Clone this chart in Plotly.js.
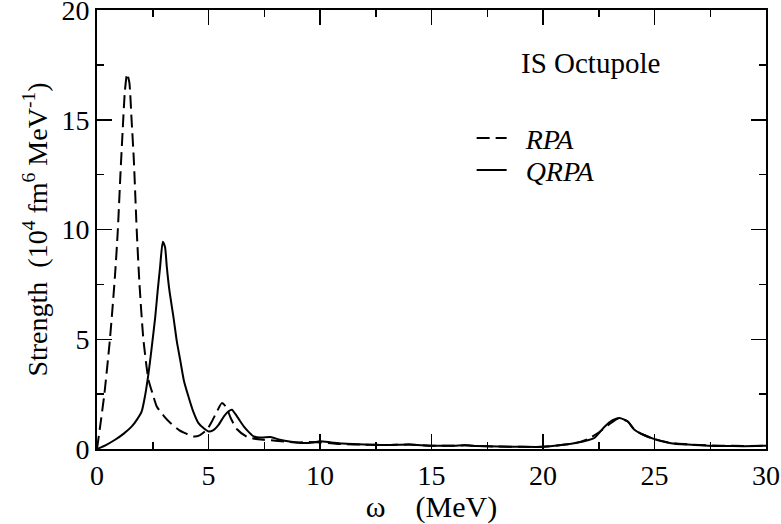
<!DOCTYPE html>
<html>
<head>
<meta charset="utf-8">
<script src="https://cdn.plot.ly/plotly-3.0.1.min.js"></script>
<style>html,body{margin:0;padding:0;background:#fff;}#chart{width:781px;height:524px;}</style>
</head>
<body>
<div id="chart"></div>
<script>
// RPA strength (dashed)
const rpaOmega = [0, 0.15, 0.33, 0.58, 0.8, 0.93, 1.05, 1.15, 1.25, 1.35, 1.45, 1.55, 1.65, 1.78, 1.9, 2.08, 2.31, 2.5, 2.68, 3.0, 3.28, 3.7, 4.0, 4.33, 4.6, 4.93, 5.15, 5.4, 5.6, 5.8, 6.0, 6.28, 6.73, 7.0, 7.46, 8, 8.5, 9, 9.5, 10, 10.5, 11, 12, 13, 14, 15, 16, 16.5, 17, 18, 19, 20, 21, 21.5, 22, 22.5, 23, 23.4, 23.8, 24.1, 24.5, 25, 25.5, 26, 27, 28, 29, 30];
const rpaStrength = [0, 1.1, 2.5, 5.0, 7.8, 9.9, 12.5, 14.5, 16.3, 17.1, 16.7, 15.0, 13.2, 10.0, 7.6, 5.0, 3.15, 2.5, 1.94, 1.5, 1.2, 0.85, 0.7, 0.57, 0.62, 0.88, 1.25, 1.75, 2.09, 1.9, 1.4, 0.9, 0.55, 0.48, 0.42, 0.38, 0.33, 0.3, 0.32, 0.3, 0.26, 0.22, 0.2, 0.18, 0.2, 0.15, 0.15, 0.17, 0.14, 0.11, 0.1, 0.1, 0.2, 0.28, 0.45, 0.75, 1.15, 1.4, 1.25, 0.88, 0.65, 0.45, 0.32, 0.25, 0.18, 0.15, 0.14, 0.15];
// QRPA strength (solid)
const qrpaOmega = [0, 0.4, 0.81, 1.2, 1.56, 1.8, 2.0, 2.15, 2.31, 2.45, 2.61, 2.72, 2.83, 2.95, 3.05, 3.13, 3.25, 3.43, 3.58, 3.73, 3.9, 4.1, 4.3, 4.55, 4.8, 5.0, 5.2, 5.45, 5.7, 5.9, 6.05, 6.2, 6.4, 6.58, 6.8, 7.03, 7.4, 7.78, 8.2, 8.7, 9.27, 9.7, 10, 10.5, 11, 12, 13, 14, 15, 16, 16.5, 17, 18, 19, 20, 21, 21.5, 22, 22.3, 22.75, 23.1, 23.43, 23.8, 24.1, 24.5, 25, 25.5, 25.9, 26.5, 27.4, 28, 29, 30];
const qrpaStrength = [0, 0.18, 0.42, 0.7, 1.03, 1.35, 1.7, 2.4, 3.45, 4.6, 6.0, 7.2, 8.3, 9.44, 9.2, 8.3, 7.2, 6.0, 4.9, 4.06, 3.1, 2.39, 1.75, 1.18, 0.93, 0.8, 0.85, 1.1, 1.5, 1.72, 1.79, 1.6, 1.3, 1.03, 0.78, 0.57, 0.52, 0.55, 0.42, 0.33, 0.27, 0.3, 0.35, 0.3, 0.25, 0.2, 0.18, 0.2, 0.15, 0.15, 0.17, 0.14, 0.11, 0.1, 0.1, 0.2, 0.28, 0.4, 0.5, 1.0, 1.3, 1.41, 1.25, 0.88, 0.65, 0.45, 0.32, 0.24, 0.2, 0.15, 0.14, 0.13, 0.15];
const seriesNames = ['RPA', 'QRPA'];
const xTickVals = [0, 5, 10, 15, 20, 25, 30];
const yTickVals = [0, 5, 10, 15, 20];

const FONT = '"Liberation Serif", serif';
const FS = 28;

const traces = [
  {x: rpaOmega, y: rpaStrength, name: '&nbsp;&nbsp;<i>' + seriesNames[0] + '</i>', mode: 'lines', legend: 'legend',
   line: {color: '#000', width: 2, dash: '13px,6px', shape: 'spline', smoothing: 0.6}},
  {x: qrpaOmega, y: qrpaStrength, name: '&nbsp;&nbsp;<i>' + seriesNames[1] + '</i>', mode: 'lines', legend: 'legend2',
   line: {color: '#000', width: 2, shape: 'spline', smoothing: 0.6}}
];

const axisCommon = {
  showgrid: false, zeroline: false, showline: true, linecolor: '#000', linewidth: 2,
  mirror: 'ticks', ticks: 'inside', ticklen: 15, tickwidth: 1.5, tickcolor: '#000',
  ticklabeloverflow: 'allow',
  tickfont: {family: FONT, size: FS, color: '#000'},
  minor: {ticks: 'inside', ticklen: 7, tickwidth: 1.5, tickcolor: '#000', showgrid: false}
};

const legendCommon = {xanchor: 'left', yanchor: 'middle', bgcolor: 'rgba(0,0,0,0)',
  font: {family: FONT, size: FS, color: '#000'}, itemwidth: 30};

const layout = {
  width: 781, height: 524,
  margin: {l: 97, r: 15, t: 10, b: 75},
  paper_bgcolor: '#fff', plot_bgcolor: '#fff',
  font: {family: FONT, color: '#000', size: FS},
  showlegend: true,
  legend: Object.assign({}, legendCommon, {x: 0.56, y: 0.708}),
  legend2: Object.assign({}, legendCommon, {x: 0.56, y: 0.635}),
  xaxis: Object.assign({}, axisCommon, {
    range: [0, 30], tickvals: xTickVals, ticktext: xTickVals.map(String),
    minor: Object.assign({}, axisCommon.minor, {dtick: 2.5, tick0: 0}),
    title: {text: 'ω&nbsp;&nbsp;&nbsp;&nbsp;(MeV)', font: {family: FONT, size: 30, color: '#000'}, standoff: 6}
  }),
  yaxis: Object.assign({}, axisCommon, {
    range: [0, 20], tickvals: yTickVals, ticktext: yTickVals.map(String),
    minor: Object.assign({}, axisCommon.minor, {dtick: 2.5, tick0: 0}),
    title: {text: 'Strength&nbsp;&nbsp;(10<sup>4</sup> fm<sup>6</sup> MeV<sup>-1</sup>)', font: {family: FONT, size: FS, color: '#000'}, standoff: 6}
  }),
  annotations: [
    {text: 'IS Octupole', xref: 'paper', yref: 'paper', x: 0.738, y: 0.88, xanchor: 'center', yanchor: 'middle',
     showarrow: false, font: {family: FONT, size: 29, color: '#000'}}
  ]
};

Plotly.newPlot('chart', traces, layout, {displayModeBar: false, staticPlot: true});
</script>
</body>
</html>
